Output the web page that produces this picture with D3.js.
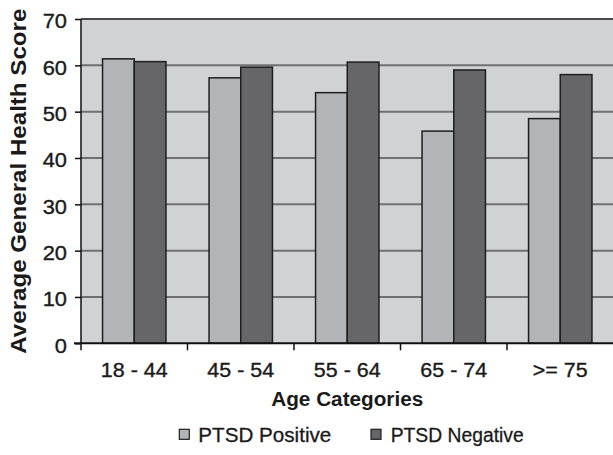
<!DOCTYPE html>
<html>
<head>
<meta charset="utf-8">
<script src="https://cdn.jsdelivr.net/npm/d3@7/dist/d3.min.js"></script>
<style>
  html, body { margin: 0; padding: 0; background: #fff; }
  svg { display: block; }
  text { font-family: "Liberation Sans", Arial, Helvetica, sans-serif; fill: #1a1a1a; }
</style>
</head>
<body>
<svg id="chart" width="613" height="455"></svg>
<script>
// ---- data ----
const categories = ["18 - 44", "45 - 54", "55 - 64", "65 - 74", ">= 75"];
const series = ["PTSD Positive", "PTSD Negative"];
const ptsdPositive = [61.4, 57.3, 54.1, 45.8, 48.5];
const ptsdNegative = [60.8, 59.6, 60.7, 59.0, 58.0];
const yTicks = [0, 10, 20, 30, 40, 50, 60, 70];
const xTitle = "Age Categories";
const yTitle = "Average General Health Score";

const colors = { "PTSD Positive": "#b3b4b7", "PTSD Negative": "#666668" };
const valuesBySeries = { "PTSD Positive": ptsdPositive, "PTSD Negative": ptsdNegative };

// ---- layout ----
const svg = d3.select("#chart");
const plot = { left: 81, right: 613.5, top: 19, bottom: 343.3 };

const x0 = d3.scaleBand().domain(categories).range([plot.left, plot.right]).paddingInner(0).paddingOuter(0);
const x1 = d3.scaleBand().domain(series).range([0, x0.bandwidth()]).paddingInner(0).paddingOuter(0.68);
const y = d3.scaleLinear().domain([0, 70]).range([plot.bottom, plot.top]);

function stretch(sel, factor) {
  sel.each(function () {
    const L = this.getComputedTextLength();
    d3.select(this).attr("textLength", L * factor).attr("lengthAdjust", "spacingAndGlyphs");
  });
}

// plot background
svg.append("rect")
  .attr("x", plot.left).attr("y", plot.top)
  .attr("width", plot.right - plot.left).attr("height", plot.bottom - plot.top)
  .attr("fill", "#d1d2d4");

// gridlines
svg.append("g").selectAll("line")
  .data(yTicks.filter(d => d > 0))
  .join("line")
  .attr("x1", plot.left).attr("x2", plot.right)
  .attr("y1", d => y(d)).attr("y2", d => y(d))
  .attr("stroke", d => d === 70 ? "#4a4a4c" : "#707072")
  .attr("stroke-width", 2);

// bars
const rows = categories.map((c, i) => ({ cat: c, vals: series.map(s => ({ s, v: valuesBySeries[s][i] })) }));
const groups = svg.append("g").selectAll("g")
  .data(rows).join("g")
  .attr("transform", d => `translate(${x0(d.cat)},0)`);
groups.selectAll("rect")
  .data(d => d.vals).join("rect")
  .attr("x", d => x1(d.s))
  .attr("y", d => y(d.v))
  .attr("width", x1.bandwidth())
  .attr("height", d => y(0) - y(d.v))
  .attr("fill", d => colors[d.s])
  .attr("stroke", "#1e1e1e")
  .attr("stroke-width", 1.5);

// y axis
const yAxis = d3.axisLeft(y).tickValues(yTicks).tickSize(6).tickPadding(8).tickFormat(d3.format("d"));
const gy = svg.append("g").attr("transform", `translate(${plot.left},0)`).call(yAxis);
gy.select(".domain").attr("stroke", "#111").attr("stroke-width", 1.5).attr("d", `M0,${plot.top}V${plot.bottom + 7}`);
gy.selectAll(".tick line").attr("stroke", "#111").attr("stroke-width", 1.5);
gy.selectAll(".tick text")
  .attr("font-size", 19.5).attr("dy", null).attr("y", 0)
  .attr("transform", "translate(0,8.8)")
  .attr("fill", "#1a1a1a")
  .attr("stroke", "#1a1a1a").attr("stroke-width", 0.35)
  .style("font-family", '"Liberation Sans", Arial, sans-serif');
stretch(gy.selectAll(".tick text"), 1.12);

// x axis: ticks at category boundaries
const boundaries = categories.map(c => x0(c)).concat([plot.right]);
svg.append("line")
  .attr("x1", plot.left - 7).attr("x2", plot.right)
  .attr("y1", plot.bottom).attr("y2", plot.bottom)
  .attr("stroke", "#111").attr("stroke-width", 2);
svg.append("g").selectAll("line")
  .data(boundaries.slice(1, categories.length))
  .join("line")
  .attr("x1", d => d).attr("x2", d => d)
  .attr("y1", plot.bottom).attr("y2", plot.bottom + 7)
  .attr("stroke", "#111").attr("stroke-width", 1.5);

const xl = svg.append("g").selectAll("text")
  .data(categories).join("text")
  .attr("x", d => x0(d) + x0.bandwidth() / 2)
  .attr("y", 377.3)
  .attr("text-anchor", "middle")
  .attr("font-size", 19.5)
  .attr("stroke", "#1a1a1a").attr("stroke-width", 0.35)
  .text(d => d);
stretch(xl, 1.1);

// axis titles
const xt = svg.append("text")
  .attr("x", (plot.left + plot.right) / 2)
  .attr("y", 406)
  .attr("text-anchor", "middle")
  .attr("font-size", 20).attr("font-weight", "bold")
  .text(xTitle);
xt.attr("textLength", 152).attr("lengthAdjust", "spacingAndGlyphs");

const yt = svg.append("text")
  .attr("transform", `translate(26,${(plot.top + plot.bottom) / 2}) rotate(-90)`)
  .attr("text-anchor", "middle")
  .attr("font-size", 22).attr("font-weight", "bold")
  .text(yTitle);
yt.attr("textLength", 345).attr("lengthAdjust", "spacingAndGlyphs");

// legend
const legendPos = [{ sx: 179.3, tx: 198.3, len: 133 }, { sx: 371, tx: 390.7, len: 133 }];
const lg = svg.append("g").selectAll("g").data(series).join("g");
lg.append("rect")
  .attr("x", (d, i) => legendPos[i].sx).attr("y", 429.3)
  .attr("width", 10).attr("height", 10)
  .attr("fill", d => colors[d])
  .attr("stroke", "#1e1e1e").attr("stroke-width", 1.2);
lg.append("text")
  .attr("x", (d, i) => legendPos[i].tx).attr("y", 441.7)
  .attr("font-size", 20)
  .attr("stroke", "#1a1a1a").attr("stroke-width", 0.3)
  .attr("textLength", (d, i) => legendPos[i].len)
  .attr("lengthAdjust", "spacingAndGlyphs")
  .text(d => d);
</script>
</body>
</html>
